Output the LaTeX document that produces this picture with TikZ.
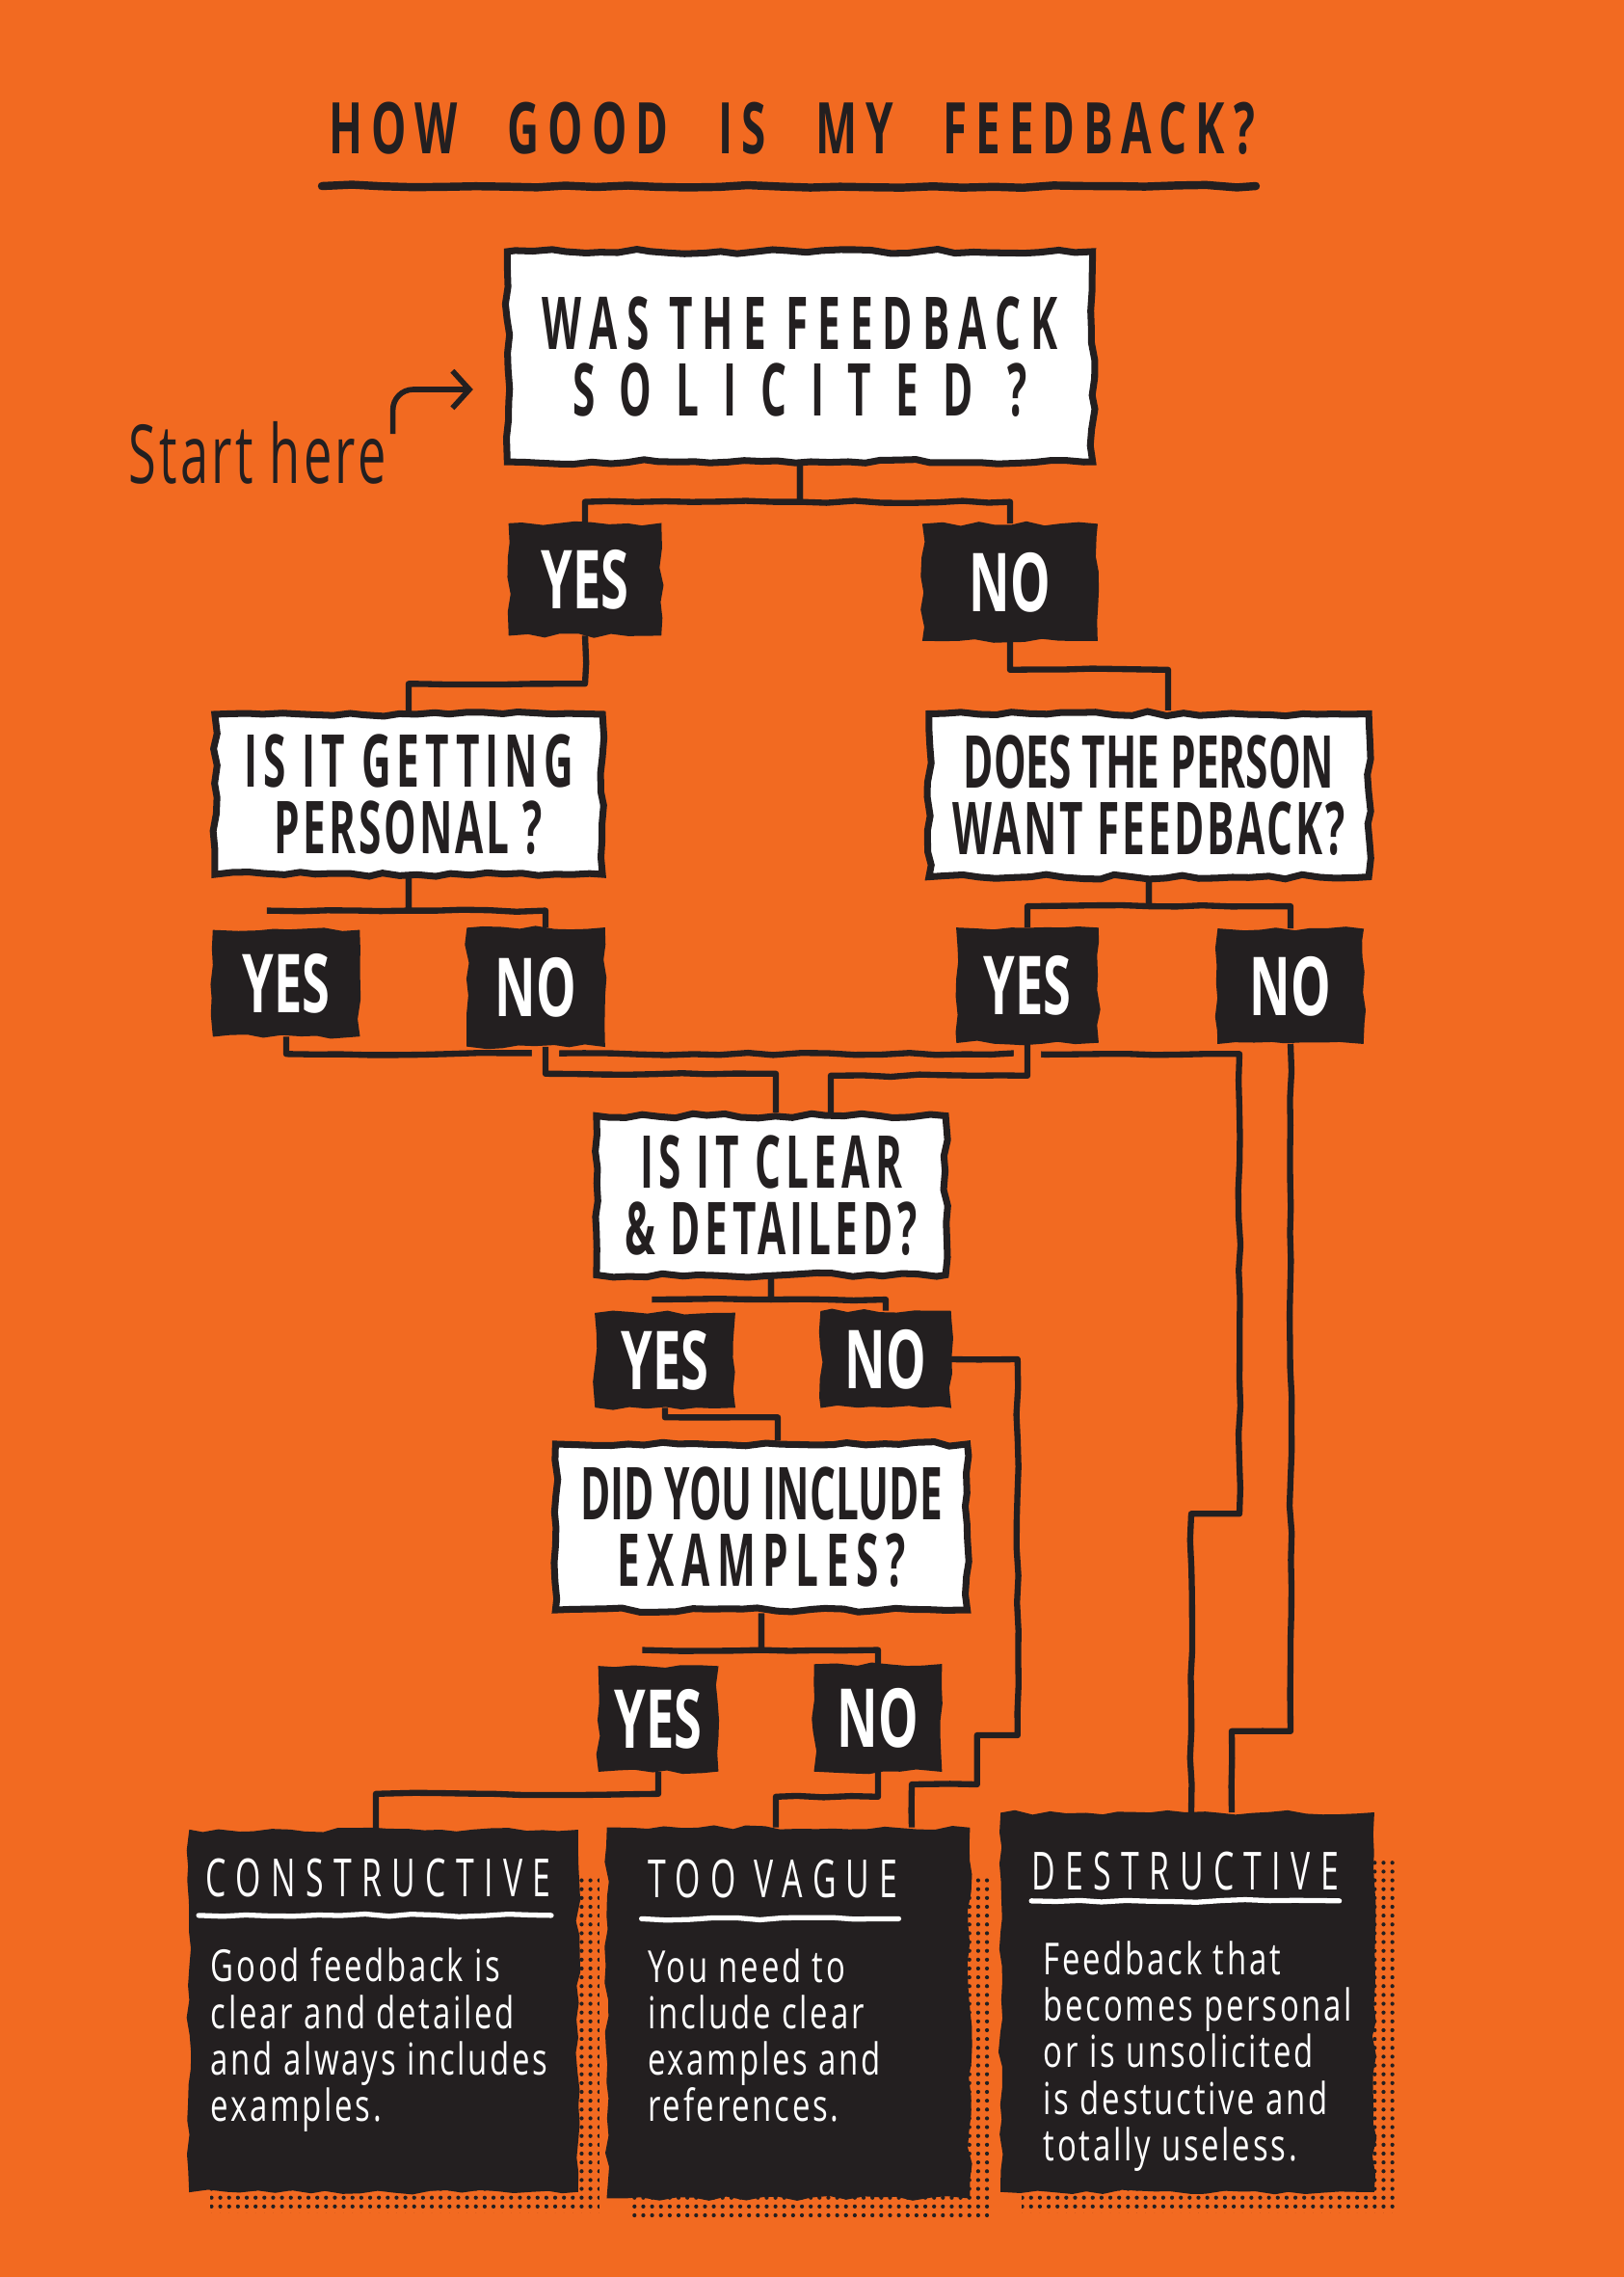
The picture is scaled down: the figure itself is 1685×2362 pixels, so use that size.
\documentclass[tikz,border=0pt]{standalone}
\usepackage{fontspec}
\usepackage{xcolor}
\usepackage{tikz}
\usetikzlibrary{arrows.meta, positioning, calc, decorations.pathmorphing, backgrounds, patterns.meta}
\newfontfamily\handfont[FakeStretch=0.62]{Open Sans}
\newfontfamily\askfont[FakeStretch=0.56]{Open Sans}
\newfontfamily\titlefont[FakeStretch=0.62, LetterSpace=12, WordSpace=2.5]{Open Sans}
\newfontfamily\notefont[FakeStretch=0.72, LetterSpace=6]{Open Sans}
\newcommand{\spaced}[2]{{\addfontfeatures{LetterSpace=#1}#2}}
\definecolor{figorange}{RGB}{242,106,33}
\definecolor{figink}{RGB}{35,31,32}
\tikzdeclarepattern{
  name=halfdots,
  type=uncolored,
  bottom left={(-1.3pt,-1.3pt)},
  top right={(1.3pt,1.3pt)},
  tile size={(2.6pt,2.6pt)},
  code={\pgfpathcircle{\pgfpointorigin}{0.6pt}\pgfusepath{fill}}
}
\tikzstyle{rough} = [decorate, decoration={random steps, segment length=5pt, amplitude=0.7pt}]
\tikzstyle{heading} = [inner sep=0pt, text=figink, font=\titlefont\bfseries\fontsize{21}{21}\selectfont]
\tikzstyle{rule} = [line width=2.4pt, draw=figink, line cap=round,
decorate, decoration={random steps, segment length=9pt, amplitude=0.5pt}]
\tikzstyle{askbox} = [rectangle, rough, fill=white, draw=figink, line width=2pt,
align=center, inner sep=0pt, text=figink,
font=\askfont\bfseries\fontsize{21.5}{19.5}\selectfont]
\tikzstyle{answer} = [rectangle, rough, fill=figink, draw=figink, line width=1pt,
align=center, inner sep=0pt, text=white,
font=\handfont\bfseries\fontsize{24}{24}\selectfont]
\tikzstyle{result} = [rectangle, rough, fill=figink, draw=figink, line width=1pt, inner sep=0pt]
\tikzstyle{resulthead} = [anchor=west, inner sep=0pt, text=white,
font=\handfont\fontsize{15.5}{15.5}\selectfont\addfontfeatures{LetterSpace=19}]
\tikzstyle{resultnote} = [anchor=north west, align=left, inner sep=0pt, text=white,
font=\notefont\fontsize{13}{13.7}\selectfont]
\tikzstyle{chalk} = [line width=1.5pt, draw=white, line cap=round,
decorate, decoration={random steps, segment length=7pt, amplitude=0.4pt}]
\tikzstyle{starttext} = [inner sep=0pt, text=figink,
font=\handfont\fontsize{24}{24}\selectfont\addfontfeatures{LetterSpace=4}]
\tikzstyle{pointer} = [-{Straight Barb[length=5pt, width=11pt]}, line width=1.6pt, draw=figink, rounded corners=6pt]
\tikzstyle{link} = [line width=1.8pt, draw=figink, line join=round,
decorate, decoration={random steps, segment length=8pt, amplitude=0.35pt}]
\tikzstyle{bridge} = [preaction={draw=figorange, line width=8pt}]
\tikzstyle{halftone} = [pattern=halfdots, pattern color=figink]

\begin{document}
\begin{tikzpicture}[x=0.01cm, y=-0.01cm]
    \pgfmathsetseed{4}
    \useasboundingbox (0,0) rectangle (1685,2362);

    \node (title) [heading] at (822,133) {HOW GOOD IS MY FEEDBACK?};
    \draw[rule] (334,193) -- (1303,193);

    % questions
    \node (q1) [askbox, minimum width=6.07cm, minimum height=2.18cm] at (830,370)
        {\fontsize{21.5}{20.5}\selectfont\spaced{13}{WAS THE FEEDBACK}\\\spaced{33}{SOLICITED ?}};
    \node (start) [starttext] at (267,470) {Start here};
    \node (q2) [askbox, minimum width=4.02cm, minimum height=1.66cm] at (424,824)
        {\spaced{8}{IS IT GETTING}\\\spaced{4}{PERSONAL ?}};
    \node (q3) [askbox, minimum width=4.56cm, minimum height=1.69cm] at (1192,825)
        {DOES THE PERSON\\\spaced{4}{WANT FEEDBACK?}};
    \node (q4) [askbox, minimum width=3.62cm, minimum height=1.65cm] at (800,1240)
        {\spaced{7}{IS IT CLEAR}\\\spaced{6}{\& DETAILED?}};
    \node (q5) [askbox, minimum width=4.27cm, minimum height=1.72cm] at (790,1584)
        {DID YOU INCLUDE\\\spaced{10}{EXAMPLES?}};

    % answers
    \node (yes1) [answer, minimum width=1.55cm, minimum height=1.13cm] at (607,601)  {YES};
    \node (no1)  [answer, minimum width=1.78cm, minimum height=1.18cm] at (1048,604) {NO};
    \node (yes2) [answer, minimum width=1.49cm, minimum height=1.07cm] at (297,1020) {YES};
    \node (no2)  [answer, minimum width=1.40cm, minimum height=1.20cm] at (556,1024) {NO};
    \node (yes3) [answer, minimum width=1.44cm, minimum height=1.16cm] at (1066,1022) {YES};
    \node (no3)  [answer, minimum width=1.48cm, minimum height=1.16cm] at (1339,1023) {NO};
    \node (yes4) [answer, minimum width=1.42cm, minimum height=0.95cm] at (690,1411) {YES};
    \node (no4)  [answer, minimum width=1.32cm, minimum height=0.97cm] at (919,1410) {NO};
    \node (yes5) [answer, minimum width=1.21cm, minimum height=1.06cm] at (683,1783) {YES};
    \node (no5)  [answer, minimum width=1.29cm, minimum height=1.08cm] at (911,1782) {NO};

    % outcomes
    \node (con)   [result, minimum width=4.00cm, minimum height=3.72cm] at (398,2086) {};
    \node (vague) [result, minimum width=3.73cm, minimum height=3.81cm] at (818,2088) {};
    \node (dest)  [result, minimum width=3.84cm, minimum height=3.90cm] at (1232,2077) {};

    \node (conhead)   [resulthead] at ($(con.north west)+(17,50)$)   {CONSTRUCTIVE};
    \node (vaguehead) [resulthead] at ($(vague.north west)+(42,53)$) {TOO VAGUE};
    \node (desthead)  [resulthead] at ($(dest.north west)+(32,61)$)  {DESTRUCTIVE};
    \draw[chalk] ($(conhead.south west)+(-7,18)$) -- ($(conhead.south east)+(0,18)$);
    \draw[chalk] ($(vaguehead.south west)+(-6,21)$) -- ($(vaguehead.south east)+(0,21)$);
    \draw[chalk] ($(desthead.south west)+(0,10)$) -- ($(desthead.south east)+(0,10)$);

    \node (connote) [resultnote] at ($(con.north west)+(22,122)$)
        {Good feedback is\\clear and detailed\\and always includes\\examples.};
    \node (vaguenote) [resultnote] at ($(vague.north west)+(42,125)$)
        {You need to\\include clear\\examples and\\references.};
    \node (destnote) [resultnote] at ($(dest.north west)+(44,133)$)
        {Feedback that\\becomes personal\\or is unsolicited\\is destuctive and\\totally useless.};

    \draw[pointer] ($(start.east)+(6,-20)$) |- ($(q1.west)+(-32,34)$);

    \begin{scope}[on background layer]
        \fill[figorange] (0,0) rectangle (1685,2362);
        \fill[halftone] ($(con.north west)+(22,50)$) rectangle ($(con.south east)+(22,22)$);
        \fill[halftone] ($(vague.north west)+(22,50)$) rectangle ($(vague.south east)+(22,22)$);
        \fill[halftone] ($(dest.north west)+(22,50)$) rectangle ($(dest.south east)+(22,22)$);

        \draw[link] (q1.south) -- ++(0,38) -| (yes1.north);
        \draw[link] (q1.south) -- ++(0,38) -| (no1.north);
        \draw[link] (yes1.south) -- ++(0,50) -| (q2.north);
        \draw[link] (no1.south) -- ++(0,30) -| ($(q3.north)+(20,0)$);
        \draw[link] (q2.south) -- ++(0,34) -| (yes2.north);
        \draw[link] (q2.south) -- ++(0,34) -| ($(no2.north)+(10,0)$);
        \draw[link] (q3.south) -- ++(0,27) -| (yes3.north);
        \draw[link] (q3.south) -- ++(0,27) -| (no3.north);

        \draw[link] (yes2.south) -- ++(0,18) -| ++(989,477) -| ($(dest.north)+(4,0)$);
        \draw[link] (no3.south) -- ++(0,713) -| ($(dest.north)+(46,0)$);
        \draw[link, bridge] ($(no2.south)+(10,0)$) -- ++(0,28) -| ($(q4.north)+(5,0)$);
        \draw[link, bridge] (yes3.south) -- ++(0,34) -| ($(q4.north)+(62,0)$);

        \draw[link] (q4.south) -- ++(0,22) -| (yes4.north);
        \draw[link] (q4.south) -- ++(0,22) -| (no4.north);
        \draw[link] (yes4.south) -- ++(0,10) -| ($(q5.north)+(17,0)$);
        \draw[link] (no4.east) -| ++(69,390) -| ++(-42,51) -| ($(vague.north)+(128,0)$);
        \draw[link] (q5.south) -- ++(0,38) -| (yes5.north);
        \draw[link] (q5.south) -- ++(0,38) -| (no5.north);
        \draw[link] (yes5.south) -- ++(0,23) -| ($(con.north)+(-8,0)$);
        \draw[link] (no5.south) -- ++(0,26) -| ($(vague.north)+(-13,0)$);
    \end{scope}
\end{tikzpicture}
\end{document}
